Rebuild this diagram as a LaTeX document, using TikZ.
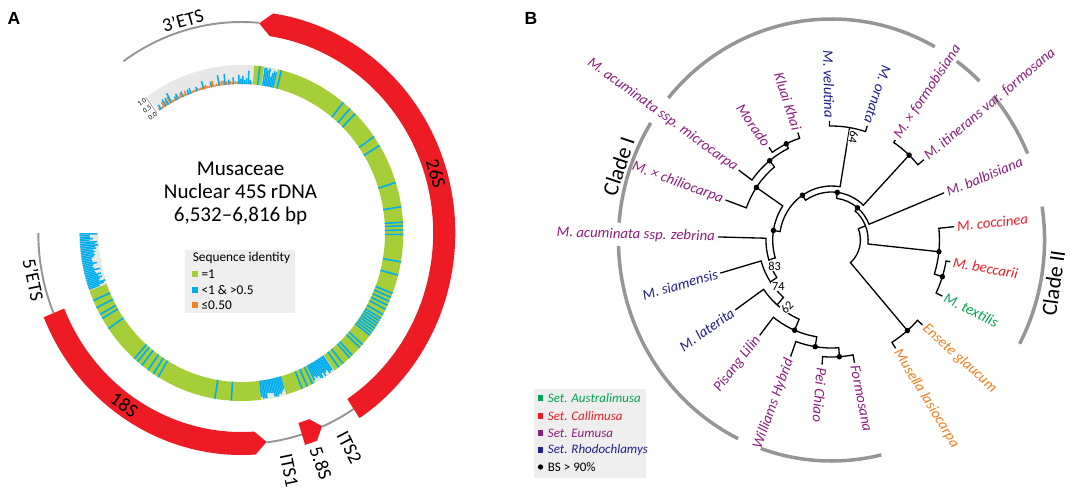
\documentclass[tikz,border=0pt]{standalone}
\usepackage{fontspec}
\setmainfont{Carlito}
\newfontfamily\panelfont{Liberation Sans}
\usetikzlibrary{positioning}

\definecolor{rdna}{RGB}{237,28,36}
\definecolor{ident}{RGB}{166,206,57}
\definecolor{part}{RGB}{0,174,239}
\definecolor{low}{RGB}{245,128,37}
\definecolor{histbg}{RGB}{232,232,232}
\definecolor{legbg}{RGB}{238,238,238}
\definecolor{spinegray}{RGB}{150,150,150}
\definecolor{cladegray}{RGB}{150,150,150}
\definecolor{eumusa}{RGB}{140,30,125}
\definecolor{rhodo}{RGB}{30,30,140}
\definecolor{calli}{RGB}{237,28,36}
\definecolor{austra}{RGB}{0,165,80}
\definecolor{outg}{RGB}{245,125,25}

\begin{document}
\begin{tikzpicture}[x=0.02cm,y=0.02cm,
	spine/.style={draw=spinegray,line width=1.1pt},
	gene/.style={fill=rdna},
	seglabel/.style={font=\fontsize{11}{11}\selectfont,inner sep=0pt},
	stripe/.style={draw=part,line width=0.9pt},
	bar/.style={line width=0.85pt},
	branch/.style={draw=black,line width=0.75pt},
	leaf/.style={font=\fontsize{8.4}{9}\selectfont\itshape,inner sep=1.5pt},
	cladearc/.style={draw=cladegray,line width=2pt},
	cladetext/.style={font=\fontsize{12.5}{13}\selectfont,inner sep=0pt},
	bsval/.style={font=\fontsize{7}{7}\selectfont,inner sep=0.4pt,fill=white},
	legtxt/.style={font=\fontsize{7.6}{8}\selectfont,inner sep=0.8pt},
	legsq/.style={minimum size=3pt,inner sep=0pt},
	paneltext/.style={font=\panelfont\bfseries\fontsize{10}{10}\selectfont}]
	\useasboundingbox (0,0) rectangle (1084,-488);
	\pgfmathsetseed{7}

	\node[paneltext] (pa) at (14,-18) {A};
	\node[paneltext] (pb) at (531,-18) {B};

	\begin{scope}[shift={(241.5,-233)},xscale=0.963]
		\fill[histbg] (85.5:149) arc[start angle=85.5,end angle=125.5,radius=149] -- (125.5:168) arc[start angle=125.5,end angle=85.5,radius=168] -- cycle;
		\fill[ident] (-180:149) arc[start angle=-180,end angle=85.5,radius=149] -- (85.5:168) arc[start angle=85.5,end angle=-180,radius=168] -- cycle;
		\foreach \a/\b in {180/200,-83/-74,-63/-55,77/82}
			\fill[histbg] (\a:149) arc[start angle=\a,end angle=\b,radius=149] -- (\b:168) arc[start angle=\b,end angle=\a,radius=168] -- cycle;

		\foreach \a in {180.3,180.9,...,200}
			{\pgfmathsetmacro\h{9+10*rnd} \draw[bar,part] (\a:168) -- (\a:{168-\h});}
		\foreach \a in {-82.7,-82.1,...,-74}
			{\pgfmathsetmacro\h{12+7*rnd} \draw[bar,part] (\a:149) -- (\a:{149+\h});}
		\foreach \a in {-62.7,-62.1,...,-55}
			{\pgfmathsetmacro\h{13+6*rnd} \draw[bar,part] (\a:149) -- (\a:{149+\h});}
		\foreach \a in {77.3,77.9,...,82}
			{\pgfmathsetmacro\h{10+9*rnd} \draw[bar,part] (\a:149) -- (\a:{149+\h});}
		\foreach \a in {124.5,123.8,...,100}
			{\pgfmathsetmacro\h{1.5+8*rnd*rnd} \draw[bar,low] (\a:149) -- (\a:{149+\h});}
		\foreach \a in {99.3,98.6,...,86}
			{\pgfmathsetmacro\h{1+4*rnd} \draw[bar,low] (\a:149) -- (\a:{149+\h});}
		\foreach \a in {124,121.7,120.5,119.1,117,116.2,114,111.5,110.6,108,105.3,102,99,96.5,95,93.2,91,90.2,89.5,88.7,88,87.3,86.6}
			{\pgfmathsetmacro\h{4+14*rnd*rnd} \draw[bar,part] (\a:149) -- (\a:{149+\h});}

		\foreach \a in {83.5,75.7,51,47.8,45.3,35,31.4,17.5,9,3.7,2.5,1,-0.5,-9.9,-14.5,-21,-22.5,-24,-25.5,-27,-29,-30.5,-31.5,-32.5,-33.5,-34.5,-35.5,-36.5,-37.5,-41.6,-43,-46.8,-48,-51.1,-53,-64,-66,-68,-93.6,-99.5,-121,-123,-125.3,-128,-130,-131.5,-145.3,-149.4,-151,-153.6,-156.3}
			\draw[stripe] (\a:149) -- (\a:168);

		\draw[spinegray,line width=0.4pt] (126.2:149) -- (126.2:168);
		\node[font=\fontsize{4}{4}\selectfont,rotate=35.5,inner sep=0pt] (t10) at (128.3:167) {1.0};
		\node[font=\fontsize{4}{4}\selectfont,rotate=35.5,inner sep=0pt] (t05) at (128.3:158) {0.5};
		\node[font=\fontsize{4}{4}\selectfont,rotate=35.5,inner sep=0pt] (t00) at (128.3:149) {0.0};

		\draw[spine] (125.5:211) arc[start angle=125.5,end angle=85,radius=211];
		\draw[spine] (-56.5:211) arc[start angle=-56.5,end angle=-66.6,radius=211];
		\draw[spine] (-72.7:211) arc[start angle=-72.7,end angle=-82.9,radius=211];
		\draw[spine] (180:211) arc[start angle=180,end angle=202.3,radius=211];

		\fill[gene] (-56.5:199) arc[start angle=-56.5,end angle=81.5,radius=199] -- (85:210.5) -- (81.5:222) arc[start angle=81.5,end angle=-56.5,radius=222] -- cycle;
		\fill[gene] (202.3:199) arc[start angle=202.3,end angle=273.8,radius=199] -- (277.1:210.5) -- (273.8:222) arc[start angle=273.8,end angle=202.3,radius=222] -- cycle;
		\fill[gene] (-72.7:199) arc[start angle=-72.7,end angle=-69.3,radius=199] -- (-66.6:210.5) -- (-69.3:222) arc[start angle=-69.3,end angle=-72.7,radius=222] -- cycle;

		\node[seglabel,rotate=16] (ets3) at (106:221) {3'ETS};
		\node[seglabel,rotate=-73.6] (s26) at (16.4:210.5) {26S};
		\node[seglabel,rotate=-77.8] (ets5) at (192.2:221) {5'ETS};
		\node[seglabel,rotate=-35.3] (s18) at (234.7:210.5) {18S};
		\node[seglabel,rotate=-78.3,anchor=west] (its1) at (-78.3:226) {ITS1};
		\node[seglabel,rotate=-70.3,anchor=west] (s58) at (-70.3:227) {5.8S};
		\node[seglabel,rotate=-62.5,anchor=west] (its2) at (-62.5:225) {ITS2};

		\node[align=center,font=\fontsize{12}{13.1}\selectfont] (title) at (-1,40) {Musaceae\\Nuclear 45S rDNA\\6,532--6,816 bp};
	\end{scope}

	\fill[legbg] (185,-250) rectangle (295,-313);
	\node[legtxt,anchor=west] (lgA) at (191,-258) {Sequence identity};
	\node[legsq,fill=ident] (sqa) at (195,-274) {};
	\node[legsq,fill=part] (sqb) at (195,-290) {};
	\node[legsq,fill=low] (sqc) at (195,-305) {};
	\node[legtxt,right=1pt of sqa] (la) {=1};
	\node[legtxt,right=1pt of sqb] (lb) {<1 \& >0.5};
	\node[legtxt,right=1pt of sqc] (lc) {≤0.50};

	\begin{scope}[shift={(831.5,-240)},xscale=0.964]
		\draw[cladearc] (61:221) arc[start angle=61,end angle=140,radius=221];
		\draw[cladearc] (46:221) arc[start angle=46,end angle=54,radius=221];
		\draw[cladearc] (23:221) arc[start angle=23,end angle=40.6,radius=221];
		\draw[cladearc] (148:221) arc[start angle=148,end angle=175.5,radius=221];
		\draw[cladearc] (181.5:221) arc[start angle=181.5,end angle=244,radius=221];
		\draw[cladearc] (250.6:221) arc[start angle=250.6,end angle=283.5,radius=221];
		\draw[cladearc] (-28:221) arc[start angle=-28,end angle=8.7,radius=221];
		\node[cladetext,rotate=71.5] (c1) at (161.5:233) {Clade I};
		\node[cladetext,rotate=82] (c2t) at (-10.6:234) {Clade II};

		\node[leaf,text=eumusa,rotate=-1.5,anchor=east] (zeb) at (178.5:118) {M. acuminata ssp. zebrina};
		\node[leaf,text=rhodo,rotate=16,anchor=east] (sia) at (196:120) {M. siamensis};
		\node[leaf,text=rhodo,rotate=35,anchor=east] (lat) at (215:122) {M. laterita};
		\node[leaf,text=eumusa,rotate=52,anchor=east] (pis) at (232:121) {Pisang Lilin};
		\node[leaf,text=eumusa,rotate=70,anchor=east] (wil) at (250:124) {Williams Hybrid};
		\node[leaf,text=eumusa,rotate=-94.5,anchor=west] (pei) at (265.5:125) {Pei Chiao};
		\node[leaf,text=eumusa,rotate=-79,anchor=west] (frm) at (281:125) {Formosana};
		\node[leaf,text=outg,rotate=-58.5,anchor=west] (mus) at (301.5:127) {Musella lasiocarpa};
		\node[leaf,text=outg,rotate=-42,anchor=west] (ens) at (318:127) {Ensete glaucum};
		\node[leaf,text=austra,rotate=-26,anchor=west] (tex) at (-26:128) {M. textilis};
		\node[leaf,text=calli,rotate=-10,anchor=west] (bec) at (-10:125) {M. beccarii};
		\node[leaf,text=calli,rotate=6,anchor=west] (coc) at (6:128) {M. coccinea};
		\node[leaf,text=eumusa,rotate=22,anchor=west] (bal) at (22:126) {M. balbisiana};
		\node[leaf,text=eumusa,rotate=40,anchor=west] (iti) at (40:125) {M. itinerans var. formosana};
		\node[leaf,text=eumusa,rotate=56.5,anchor=west] (fmb) at (56.5:120) {M. × formobisiana};
		\node[leaf,text=rhodo,rotate=-108,anchor=east] (orn) at (72:120) {M. ornata};
		\node[leaf,text=rhodo,rotate=-89,anchor=east] (vel) at (91:119) {M. velutina};
		\node[leaf,text=eumusa,rotate=-72,anchor=east] (klu) at (108:113) {Kluai Khai};
		\node[leaf,text=eumusa,rotate=-55,anchor=east] (mor) at (125:113) {Morado};
		\node[leaf,text=eumusa,rotate=-36,anchor=east] (mic) at (144:119) {M. acuminata ssp. microcarpa};
		\node[leaf,text=eumusa,rotate=-20,anchor=east] (chi) at (160:117) {M. × chiliocarpa};

		\coordinate (rt) at (-13.5:30);
		\coordinate (M) at (22:38);
		\coordinate (og) at (-49:120);
		\coordinate (c2) at (-6:112);
		\coordinate (bt) at (-17.7:120.7);
		\coordinate (n1) at (50:42);
		\coordinate (n2) at (82.8:48);
		\coordinate (nfi) at (46.5:117);
		\coordinate (n3) at (124:54);
		\coordinate (nvo) at (80.5:114);
		\coordinate (n4) at (171:61);
		\coordinate (nchi) at (146:94);
		\coordinate (nmic) at (129:102);
		\coordinate (nmk) at (116:107);
		\coordinate (n83) at (197:68);
		\coordinate (n74) at (213.5:76);
		\coordinate (n62) at (229:86);
		\coordinate (npl) at (247:98);
		\coordinate (nwh) at (261:108);
		\coordinate (npf) at (274:117);

		\draw[branch] (rt) arc[start angle=-13.5,end angle=22,radius=30] -- (M);
		\draw[branch] (rt) arc[start angle=-13.5,end angle=-49,radius=30] -- (og);
		\draw[branch] (M) arc[start angle=22,end angle=-6,radius=38] -- (c2);
		\draw[branch] (M) arc[start angle=22,end angle=50,radius=38] -- (n1);
		\draw[branch] (og) arc[start angle=-49,end angle=-58.5,radius=120] -- (mus.west);
		\draw[branch] (og) arc[start angle=-49,end angle=-42,radius=120] -- (ens.west);
		\draw[branch] (c2) arc[start angle=-6,end angle=6,radius=112] -- (coc.west);
		\draw[branch] (c2) arc[start angle=-6,end angle=-17.7,radius=112] -- (bt);
		\draw[branch] (bt) arc[start angle=-17.7,end angle=-10,radius=120.7] -- (bec.west);
		\draw[branch] (bt) arc[start angle=-17.7,end angle=-26,radius=120.7] -- (tex.west);
		\draw[branch] (n1) arc[start angle=50,end angle=22,radius=42] -- (bal.west);
		\draw[branch] (n1) arc[start angle=50,end angle=82.8,radius=42] -- (n2);
		\draw[branch] (n2) arc[start angle=82.8,end angle=46.5,radius=48] -- (nfi);
		\draw[branch] (n2) arc[start angle=82.8,end angle=124,radius=48] -- (n3);
		\draw[branch] (nfi) arc[start angle=46.5,end angle=56.5,radius=117] -- (fmb.west);
		\draw[branch] (nfi) arc[start angle=46.5,end angle=40,radius=117] -- (iti.west);
		\draw[branch] (n3) arc[start angle=124,end angle=80.5,radius=54] -- (nvo);
		\draw[branch] (n3) arc[start angle=124,end angle=171,radius=54] -- (n4);
		\draw[branch] (nvo) arc[start angle=80.5,end angle=91,radius=114] -- (vel.east);
		\draw[branch] (nvo) arc[start angle=80.5,end angle=72,radius=114] -- (orn.east);
		\draw[branch] (n4) arc[start angle=171,end angle=146,radius=61] -- (nchi);
		\draw[branch] (n4) arc[start angle=171,end angle=197,radius=61] -- (n83);
		\draw[branch] (nchi) arc[start angle=146,end angle=160,radius=94] -- (chi.east);
		\draw[branch] (nchi) arc[start angle=146,end angle=129,radius=94] -- (nmic);
		\draw[branch] (nmic) arc[start angle=129,end angle=144,radius=102] -- (mic.east);
		\draw[branch] (nmic) arc[start angle=129,end angle=116,radius=102] -- (nmk);
		\draw[branch] (nmk) arc[start angle=116,end angle=125,radius=107] -- (mor.east);
		\draw[branch] (nmk) arc[start angle=116,end angle=108,radius=107] -- (klu.east);
		\draw[branch] (n83) arc[start angle=197,end angle=178.5,radius=68] -- (zeb.east);
		\draw[branch] (n83) arc[start angle=197,end angle=213.5,radius=68] -- (n74);
		\draw[branch] (n74) arc[start angle=213.5,end angle=196,radius=76] -- (sia.east);
		\draw[branch] (n74) arc[start angle=213.5,end angle=229,radius=76] -- (n62);
		\draw[branch] (n62) arc[start angle=229,end angle=215,radius=86] -- (lat.east);
		\draw[branch] (n62) arc[start angle=229,end angle=247,radius=86] -- (npl);
		\draw[branch] (npl) arc[start angle=247,end angle=232,radius=98] -- (pis.east);
		\draw[branch] (npl) arc[start angle=247,end angle=261,radius=98] -- (nwh);
		\draw[branch] (nwh) arc[start angle=261,end angle=250,radius=108] -- (wil.east);
		\draw[branch] (nwh) arc[start angle=261,end angle=274,radius=108] -- (npf);
		\draw[branch] (npf) arc[start angle=274,end angle=265.5,radius=117] -- (pei.west);
		\draw[branch] (npf) arc[start angle=274,end angle=281,radius=117] -- (frm.west);

		\foreach \n in {og,c2,bt,n1,n2,nfi,n3,n4,nchi,nmic,nmk,npl,nwh,npf}
			\fill (\n) circle (1.6pt);

		\node[bsval,rotate=-99.5,anchor=south] (b64) at (80.5:105) {64};
		\node[bsval] (b83) at (204:64.5) {83};
		\node[bsval] (b74) at (220:72) {74};
		\node[bsval,rotate=45] (b62) at (235.5:81.5) {62};
	\end{scope}

	\fill[legbg] (534,-389) rectangle (646,-478);
	\node[legsq,fill=austra] (ka) at (540.5,-398) {};
	\node[legsq,fill=calli] (kc) at (540.5,-416) {};
	\node[legsq,fill=eumusa] (ke) at (540.5,-433) {};
	\node[legsq,fill=rhodo] (kr) at (540.5,-450) {};
	\node[legsq,circle,fill=black] (kb) at (540.5,-467) {};
	\node[legtxt,right=1.5pt of ka,text=austra,font=\fontsize{7.4}{8}\selectfont\itshape] (la2) {Set. Australimusa};
	\node[legtxt,right=1.5pt of kc,text=calli,font=\fontsize{7.4}{8}\selectfont\itshape] (lc2) {Set. Callimusa};
	\node[legtxt,right=1.5pt of ke,text=eumusa,font=\fontsize{7.4}{8}\selectfont\itshape] (le2) {Set. Eumusa};
	\node[legtxt,right=1.5pt of kr,text=rhodo,font=\fontsize{7.4}{8}\selectfont\itshape] (lr2) {Set. Rhodochlamys};
	\node[legtxt,right=1.5pt of kb,font=\fontsize{7.4}{8}\selectfont] (lb2) {BS > 90\%};
\end{tikzpicture}
\end{document}
